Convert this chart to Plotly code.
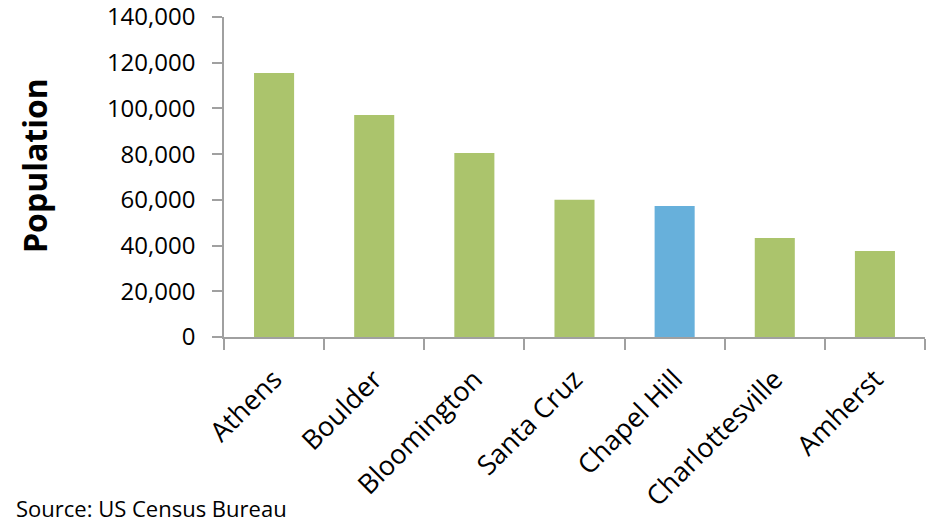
import plotly.graph_objects as go

cities = ["Athens", "Boulder", "Bloomington", "Santa Cruz", "Chapel Hill", "Charlottesville", "Amherst"]
population = [115500, 97100, 80500, 60000, 57300, 43300, 37600]
highlight = "Chapel Hill"
y_ticks = [0, 20000, 40000, 60000, 80000, 100000, 120000, 140000]

GREEN = "#ABC46C"
BLUE = "#67B0DB"
AXIS = "#A0A0A0"
FONT = "Open Sans"

colors = [BLUE if c == highlight else GREEN for c in cities]

fig = go.Figure(go.Bar(x=cities, y=population, marker=dict(color=colors, line=dict(width=0)), width=0.4))

fig.update_layout(
    width=952, height=532,
    margin=dict(l=224, r=27, t=17, b=195, autoexpand=False),
    paper_bgcolor="white", plot_bgcolor="white",
    showlegend=False,
    font=dict(family=FONT, color="black"),
)
fig.update_xaxes(
    automargin=False,
    showline=True, linecolor=AXIS, linewidth=1.5,
    ticks="outside", ticklen=11, tickcolor=AXIS, tickwidth=1.5,
    tickson="boundaries", tickangle=-45,
    tickfont=dict(family=FONT, size=27),
    ticklabelstandoff=14,
    ticklabeloverflow="allow",
    showgrid=False, zeroline=False,
)
fig.update_yaxes(
    automargin=False,
    range=[0, 140000], tickvals=y_ticks,
    ticktext=[f"{v:,}" for v in y_ticks],
    showline=True, linecolor=AXIS, linewidth=1.5,
    ticks="outside", ticklen=10, tickcolor=AXIS, tickwidth=1.5,
    tickfont=dict(family=FONT, size=24),
    ticklabelstandoff=12,
    ticklabeloverflow="allow",
    showgrid=False, zeroline=False,
)
fig.add_annotation(
    text="<b>Population</b>", textangle=-90,
    xref="paper", yref="paper", x=0, y=(337 - 166) / 320,
    xanchor="center", yanchor="middle", xshift=-(224 - 34), showarrow=False,
    font=dict(family=FONT, size=32, color="black"),
)
fig.add_annotation(
    text="Source: US Census Bureau",
    xref="paper", yref="paper", x=0, y=(337 - 508) / 320,
    xanchor="left", yanchor="middle", xshift=14 - 224, showarrow=False,
    font=dict(family=FONT, size=22, color="black"),
)
fig.write_html("out.html")
